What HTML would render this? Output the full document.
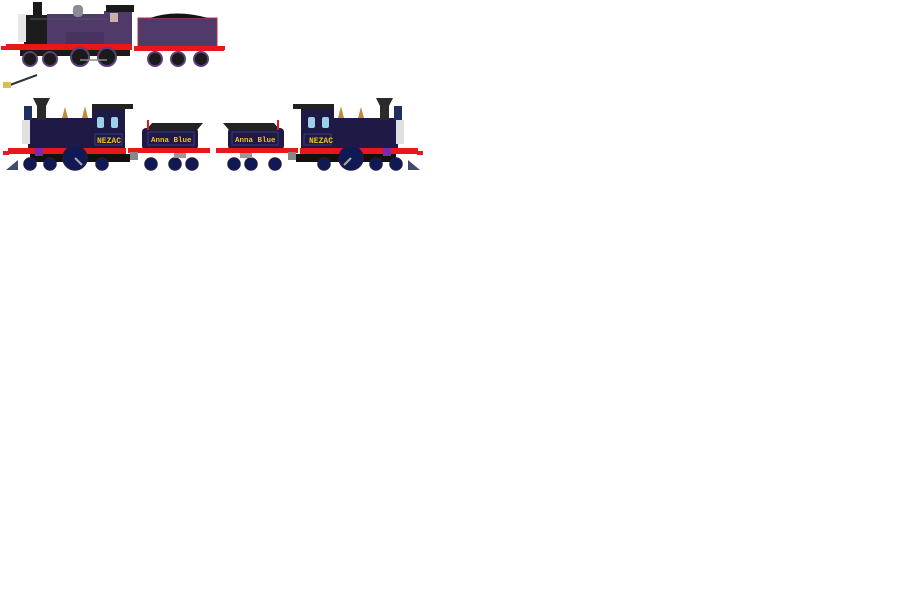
<!DOCTYPE html>
<html><head><style>body{margin:0;background:#fff;width:900px;height:591px;overflow:hidden}svg{display:block}</style></head><body>
<svg width="900" height="591" xmlns="http://www.w3.org/2000/svg">
<!-- top engine -->
<rect x="33" y="2" width="9" height="14" fill="#1a1a1a"/>
<rect x="24" y="15" width="24" height="32" fill="#1c1c1c"/>
<rect x="18" y="14" width="8" height="28" fill="#e8e8e8"/>
<rect x="47" y="14" width="60" height="33" fill="#4f3a6a"/>
<rect x="73" y="5" width="10" height="12" rx="4" fill="#8c8c94"/>
<rect x="66" y="32" width="60" height="14" fill="#47335f"/>
<rect x="104" y="11" width="28" height="36" fill="#4f3a6a"/>
<rect x="106" y="5" width="28" height="7" fill="#1a1a1a"/>
<rect x="110" y="13" width="8" height="9" fill="#c9b0a8"/>
<line x1="30" y1="19" x2="106" y2="19" stroke="#555" stroke-width="1"/>
<rect x="6" y="44" width="126" height="6" fill="#e8171c"/>
<rect x="20" y="50" width="110" height="6" fill="#1a1a1a"/>
<rect x="138" y="18" width="79" height="30" fill="#4f3a6a" stroke="#b0304a" stroke-width="1"/>
<path d="M150 18 Q176 9 208 18Z" fill="#141414"/>
<rect x="134" y="46" width="90" height="5" fill="#e8171c"/>
<rect x="1" y="46" width="8" height="4" fill="#e8171c"/>
<rect x="218" y="46" width="7" height="4" fill="#e8171c"/>
<g fill="#1a1a1a" stroke="#5a3f7a" stroke-width="2">
<circle cx="30" cy="59" r="7"/><circle cx="50" cy="59" r="7"/>
<circle cx="80" cy="57" r="9"/><circle cx="107" cy="57" r="9"/>
<circle cx="155" cy="59" r="7"/><circle cx="178" cy="59" r="7"/><circle cx="201" cy="59" r="7"/>
</g>
<line x1="80" y1="60" x2="107" y2="60" stroke="#888" stroke-width="1.5"/>
<!-- tool -->
<line x1="10" y1="85" x2="37" y2="75" stroke="#333" stroke-width="2"/>
<rect x="3" y="82" width="8" height="6" fill="#d8c04a"/>
<!-- bottom train, left -->
<g id="tr">
<rect x="28" y="118" width="97" height="32" fill="#1e1a45"/>
<path d="M33 98 H50 L46 106 V120 H37 V106Z" fill="#2a2a2a"/>
<rect x="24" y="106" width="8" height="14" fill="#1f3060"/>
<rect x="22" y="120" width="8" height="24" fill="#e0e0e0"/>
<rect x="92" y="106" width="33" height="44" fill="#1e1a45"/>
<rect x="92" y="104" width="41" height="5" fill="#222"/>
<rect x="97" y="117" width="7" height="11" rx="2" fill="#9ccfe8"/>
<rect x="111" y="117" width="7" height="11" rx="2" fill="#9ccfe8"/>
<rect x="95" y="134" width="27" height="11" fill="#1e1a45" stroke="#3a3a7a"/>
<path d="M62 118 L65 107 L68 118Z" fill="#c08a40"/>
<path d="M82 118 L85 106 L88 118Z" fill="#c08a40"/>
<rect x="8" y="148" width="118" height="6" fill="#e8171c"/>
<rect x="30" y="154" width="100" height="8" fill="#111"/>
<rect x="35" y="148" width="8" height="8" fill="#7a2ab0"/>
<path d="M6 170 L18 160 V170Z" fill="#444a70"/>
<g fill="#0f1a55" stroke="#1e1a45" stroke-width="1.5">
<circle cx="30" cy="164" r="6"/><circle cx="50" cy="164" r="6"/>
<circle cx="75" cy="158" r="12"/><circle cx="102" cy="164" r="6"/>
<circle cx="151" cy="164" r="6"/><circle cx="175" cy="164" r="6"/><circle cx="192" cy="164" r="6"/>
</g>
<line x1="75" y1="158" x2="82" y2="165" stroke="#aaa" stroke-width="2"/>
<rect x="142" y="128" width="56" height="22" rx="4" fill="#1e1a45"/>
<path d="M152 123 H203 L197 130 H146Z" fill="#222"/>
<rect x="148" y="132" width="46" height="13" fill="#1e1a45" stroke="#3a3a7a"/>
<rect x="128" y="148" width="82" height="5" fill="#e8171c"/>
<rect x="130" y="152" width="8" height="8" fill="#888"/>
<rect x="174" y="153" width="12" height="5" fill="#999"/>
<rect x="147" y="120" width="2" height="10" fill="#e8171c"/>
<rect x="3" y="151" width="6" height="4" fill="#e8171c"/>
</g>
<use href="#tr" transform="translate(426,0) scale(-1,1)"/>
<g font-family="Liberation Mono, monospace" font-weight="bold" fill="#f0c020">
<text x="97" y="143" font-size="8">NEZAC</text>
<text x="151" y="142" font-size="7.5">Anna Blue</text>
<text x="309" y="143" font-size="8">NEZAC</text>
<text x="235" y="142" font-size="7.5">Anna Blue</text>
</g>
</svg>
</body></html>
